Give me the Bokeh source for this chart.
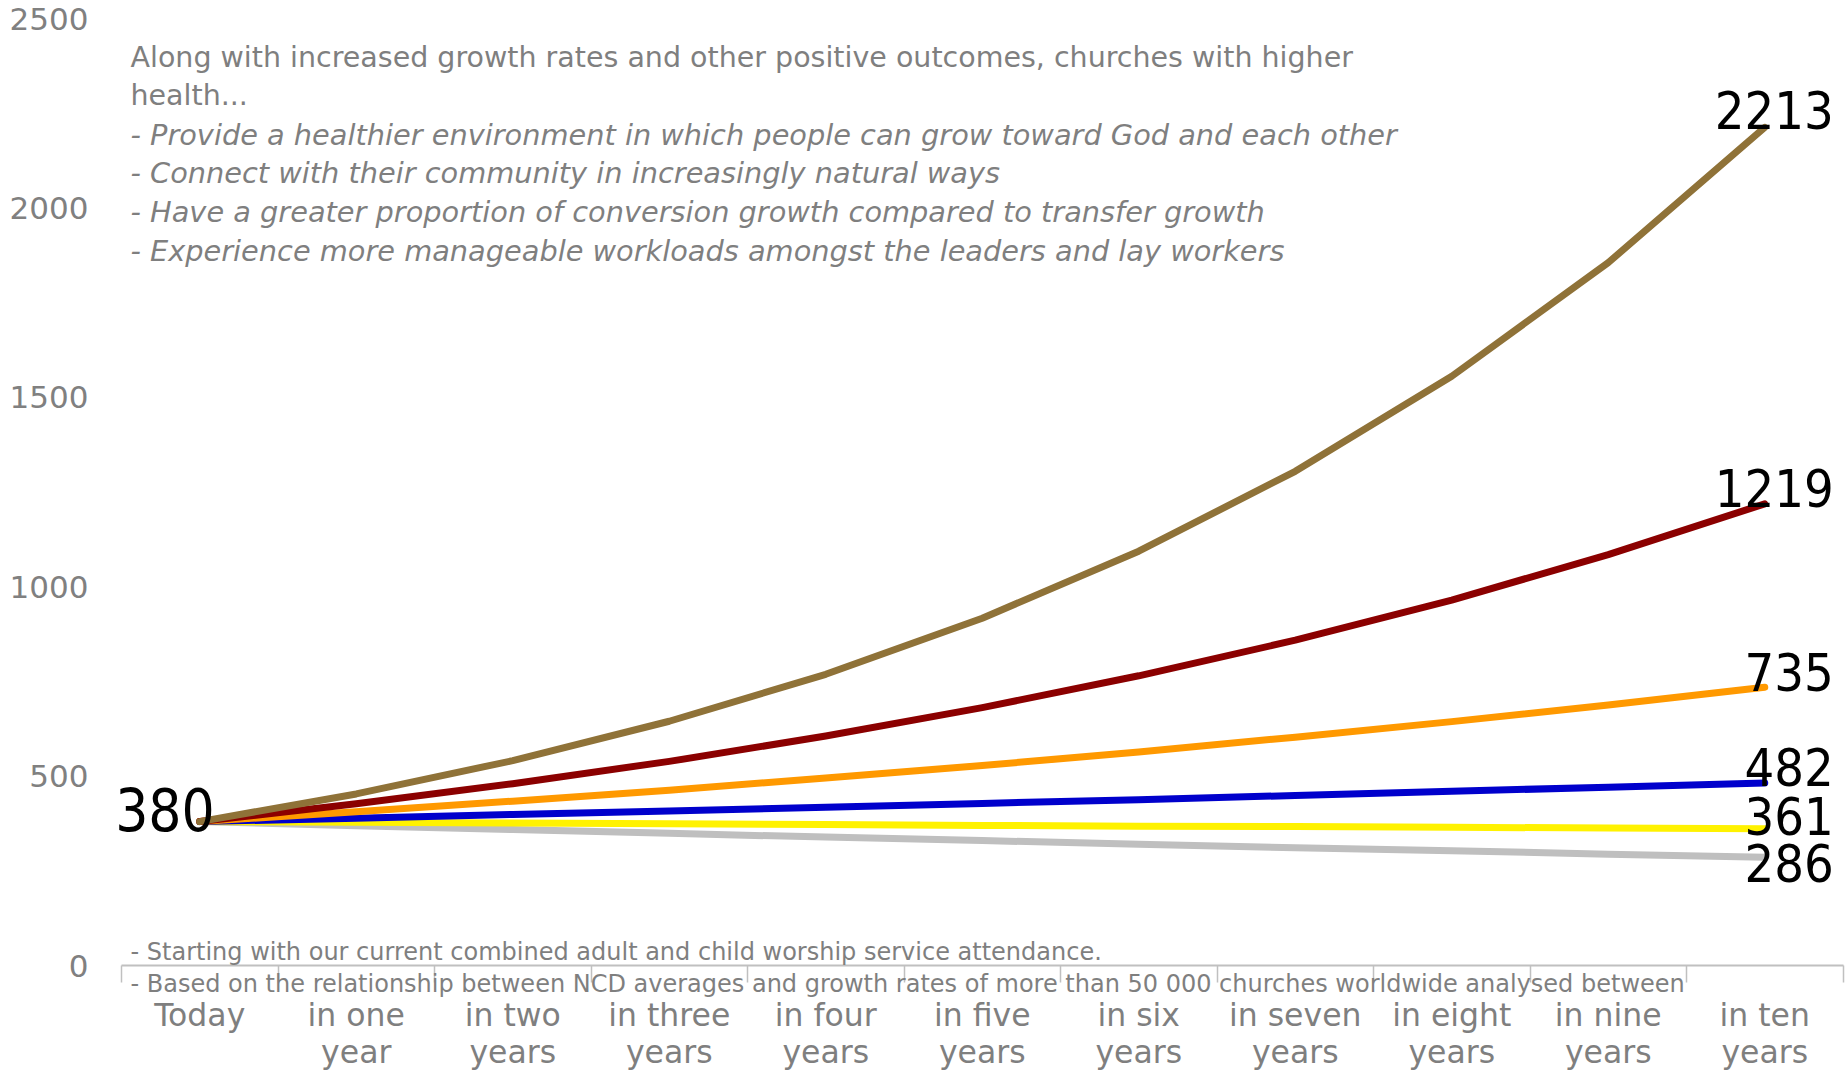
from bokeh.plotting import figure
from bokeh.models import Range1d, FixedTicker, LinearAxis, Label
from bokeh.embed import file_html
from bokeh.resources import INLINE

# ---------------- data ----------------
periods = ["Today", "in one\nyear", "in two\nyears", "in three\nyears", "in four\nyears",
           "in five\nyears", "in six\nyears", "in seven\nyears", "in eight\nyears",
           "in nine\nyears", "in ten\nyears"]

brown_series = [380, 453, 541, 645, 769, 917, 1094, 1305, 1556, 1856, 2213]
red_series = [380, 427, 480, 539, 606, 681, 765, 859, 965, 1085, 1219]
orange_series = [380, 406, 434, 463, 495, 528, 564, 603, 644, 688, 735]
blue_series = [380, 389, 399, 408, 418, 428, 438, 449, 460, 471, 482]
yellow_series = [380, 378, 376, 374, 372, 370, 368, 367, 365, 363, 361]
grey_series = [380, 369, 359, 349, 339, 330, 320, 311, 303, 294, 286]

y_ticks = [0, 500, 1000, 1500, 2000, 2500]

top_lines = [
    ("Along with increased growth rates and other positive outcomes, churches with higher", "normal"),
    ("health...", "normal"),
    ("- Provide a healthier environment in which people can grow toward God and each other", "italic"),
    ("- Connect with their community in increasingly natural ways", "italic"),
    ("- Have a greater proportion of conversion growth compared to transfer growth", "italic"),
    ("- Experience more manageable workloads amongst the leaders and lay workers", "italic"),
]
note_lines = [
    "- Starting with our current combined adult and child worship service attendance.",
    "- Based on the relationship between NCD averages and growth rates of more than 50 000 churches worldwide analysed between",
]

# ---------------- layout (pixel geometry) ----------------
W, H = 1845, 1074
AX_LEFT = 121          # pixel of the category axis start
CAT_W = 156.5          # pixel width of one category
ZERO_Y = 965.0         # pixel row of value 0
PX_PER_UNIT = 0.3787   # pixels per attendance unit

GREY_TXT = "#7f7f7f"
NARROW = "'Liberation Sans Narrow', 'DejaVu Sans Condensed', sans-serif"


def px_to_x(px):
    return (px - AX_LEFT) / CAT_W - 0.5


def px_to_y(py):
    return (ZERO_Y - py) / PX_PER_UNIT


x_vals = list(range(len(periods)))

p = figure(width=W, height=H, output_backend="svg", toolbar_location=None,
           x_range=Range1d(px_to_x(0), px_to_x(W)), y_range=Range1d(px_to_y(H), px_to_y(0)),
           x_axis_location=None, y_axis_location=None,
           min_border_left=0, min_border_right=0, min_border_top=0, min_border_bottom=0)
p.outline_line_color = None
p.background_fill_color = "white"
p.border_fill_color = "white"
p.xgrid.visible = False
p.ygrid.visible = False

# y axis (labels only)
yaxis = LinearAxis(ticker=FixedTicker(ticks=y_ticks), fixed_location=-0.5, axis_line_color=None,
                   major_tick_line_color=None, minor_tick_line_color=None,
                   major_tick_in=0, major_tick_out=0, major_label_standoff=33,
                   major_label_text_font="DejaVu Sans", major_label_text_font_size="31px",
                   major_label_text_color="#808080")
p.add_layout(yaxis, "left")

# x axis: line + boundary tick marks
n = len(periods)
bounds = [i - 0.5 for i in range(n + 1)]
xaxis_ticks = LinearAxis(ticker=FixedTicker(ticks=bounds), fixed_location=0, bounds=(-0.5, n - 0.5),
                         axis_line_color="#c0c0c0", axis_line_width=2,
                         major_tick_line_color="#c0c0c0", major_tick_line_width=1.5,
                         major_tick_in=0, major_tick_out=17, minor_tick_line_color=None,
                         major_label_text_font_size="0px", major_label_standoff=0,
                         major_label_overrides={b: "" for b in bounds})
p.add_layout(xaxis_ticks, "below")

# x axis: category labels centred in each category
xaxis_lbl = LinearAxis(ticker=FixedTicker(ticks=x_vals), fixed_location=0, axis_line_color=None,
                       major_tick_line_color=None, minor_tick_line_color=None,
                       major_tick_in=0, major_tick_out=0, major_label_standoff=31,
                       major_label_overrides={i: t for i, t in zip(x_vals, periods)},
                       major_label_text_font="DejaVu Sans", major_label_text_font_size="31.5px",
                       major_label_text_color=GREY_TXT, major_label_text_line_height=1.04)
p.add_layout(xaxis_lbl, "below")

# lines
series = [
    (grey_series, "#bfbfbf", -6),
    (yellow_series, "#fff200", 13),
    (blue_series, "#0000cc", 16),
    (orange_series, "#ff9900", 15),
    (red_series, "#8b0000", 16),
    (brown_series, "#8f7238", 17),
]
for ys, col, dy in series:
    p.line(x_vals, ys, line_color=col, line_width=7, line_cap="round", line_join="round")

for ys, col, dy in series:
    p.add_layout(Label(x=x_vals[-1], y=ys[-1], x_offset=69, y_offset=dy, text=str(ys[-1]),
                       text_align="right", text_baseline="middle", text_font=NARROW,
                       text_font_size="52px", text_color="black"))

p.add_layout(Label(x=x_vals[0], y=brown_series[0], x_offset=15, y_offset=12, text=str(brown_series[0]),
                   text_align="right", text_baseline="middle", text_font=NARROW,
                   text_font_size="58px", text_color="black"))

# top explanatory text
top_y0, top_step = 56.6, 38.7
for i, (txt, style) in enumerate(top_lines):
    size = "28.5px" if style == "normal" else "28.8px"
    p.add_layout(Label(x=px_to_x(130), y=px_to_y(top_y0 + i * top_step), text=txt,
                       text_align="left", text_baseline="middle", text_font="DejaVu Sans",
                       text_font_size=size, text_font_style=style, text_color=GREY_TXT))

# footnotes around the axis line
for txt, py in zip(note_lines, [951.5, 983]):
    p.add_layout(Label(x=px_to_x(130), y=px_to_y(py), text=txt, text_align="left",
                       text_baseline="middle", text_font="DejaVu Sans",
                       text_font_size="24px", text_color=GREY_TXT))

open("out.html", "w").write(file_html(p, INLINE))
